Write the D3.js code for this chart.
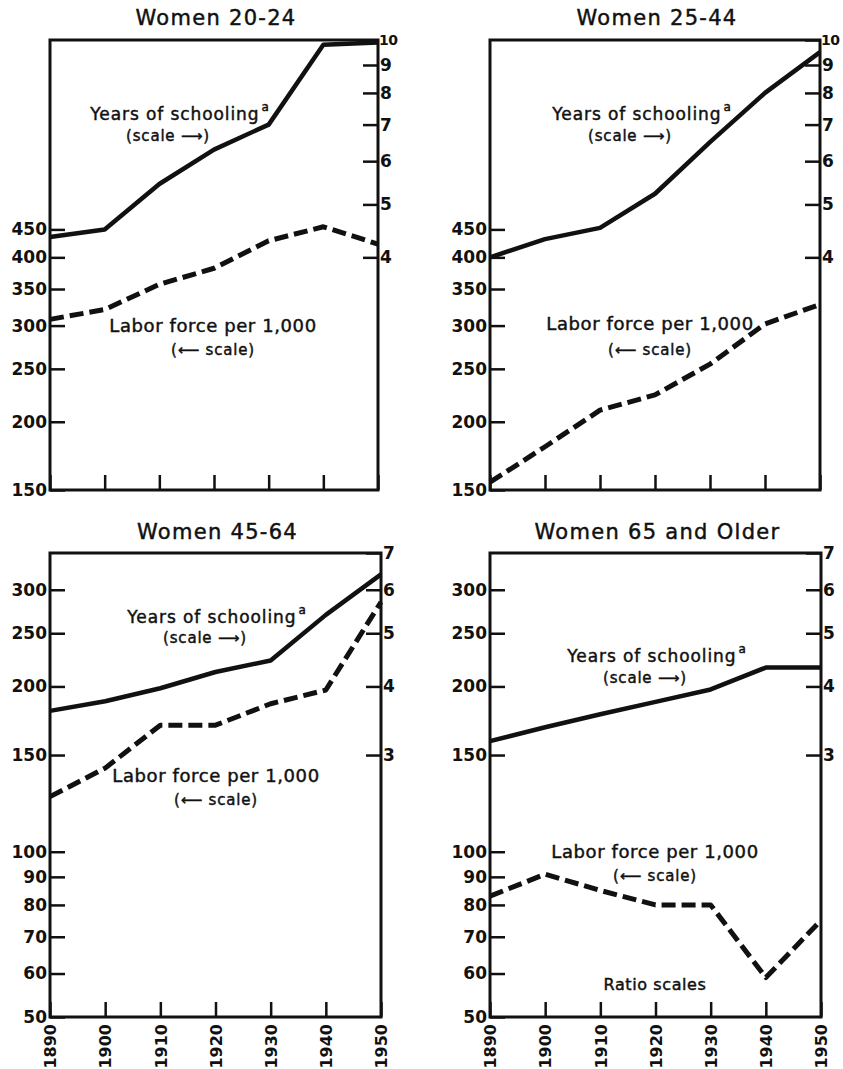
<!DOCTYPE html>
<html>
<head>
<meta charset="utf-8">
<script src="https://cdn.jsdelivr.net/npm/d3@7"></script>
<style>
  html, body { margin: 0; padding: 0; background: #fff; }
  svg { display: block; }
  text { font-family: "DejaVu Sans", sans-serif; fill: #111; }
  .lbl { stroke: #111; stroke-width: 0.45px; }
</style>
</head>
<body>
<svg id="chart" width="843" height="1069"></svg>
<script>
// ---------------- DATA ----------------
const years = [1890, 1900, 1910, 1920, 1930, 1940, 1950];
const panelTitles = ["Women 20-24", "Women 25-44", "Women 45-64", "Women 65 and Older"];

// Years of schooling (right, ratio scale)
const schooling2024 = [4.36, 4.5, 5.45, 6.3, 7.0, 9.8, 9.9];
const schooling2544 = [4.0, 4.32, 4.53, 5.23, 6.5, 8.0, 9.5];
const schooling4564 = [3.61, 3.76, 3.97, 4.25, 4.46, 5.4, 6.4];
const schooling65 = [3.18, 3.37, 3.56, 3.75, 3.95, 4.33, 4.33];

// Labor force per 1,000 (left, ratio scale)
const labor2024 = [308, 321, 357, 382, 429, 455, 423];
const labor2544 = [155, 180, 210, 224, 255, 302, 328];
const labor4564 = [126, 142, 170, 170, 186, 197, 285];
const labor65 = [83, 91, 85, 80, 80, 59, 75];

// Tick labels
const leftTicksTop = [150, 200, 250, 300, 350, 400, 450];
const rightTicksTop = [4, 5, 6, 7, 8, 9, 10];
const leftTicksBottom = [50, 60, 70, 80, 90, 100, 150, 200, 250, 300];
const rightTicksBottom = [3, 4, 5, 6, 7];

const labelSchool = "Years of schooling";
const labelSchoolSup = "a";
const labelSchoolScale = "(scale \u27F6)";
const labelLabor = "Labor force per 1,000";
const labelLaborScale = "(\u27F5 scale)";
const noteRatio = "Ratio scales";

// ---------------- LAYOUT ----------------
const panels = [
  { title: panelTitles[0], school: schooling2024, labor: labor2024, x0: 50, x1: 378, y0: 40, y1: 490,
    lDom: [150, 1000], ratio: 100, lt: leftTicksTop, rt: rightTicksTop, yearLabels: false,
    titleY: 25, sch: [180, 120, 141], lab: [213, 332, 355] },
  { title: panelTitles[1], school: schooling2544, labor: labor2544, x0: 490, x1: 820, y0: 40, y1: 490,
    lDom: [150, 1000], ratio: 100, lt: leftTicksTop, rt: rightTicksTop, yearLabels: false,
    titleY: 25, sch: [642, 120, 141], lab: [650, 330, 355] },
  { title: panelTitles[2], school: schooling4564, labor: labor4564, x0: 50, x1: 381, y0: 553, y1: 1017,
    lDom: [50, 350], ratio: 50, lt: leftTicksBottom, rt: rightTicksBottom, yearLabels: true,
    titleY: 539, sch: [217, 623, 643], lab: [216, 782, 805] },
  { title: panelTitles[3], school: schooling65, labor: labor65, x0: 490, x1: 821, y0: 553, y1: 1017,
    lDom: [50, 350], ratio: 50, lt: leftTicksBottom, rt: rightTicksBottom, yearLabels: true,
    titleY: 539, sch: [657, 662, 683], lab: [655, 858, 881], note: [655, 990] }
];

const svg = d3.select("#chart");

function styleTicks(sel, size) {
  sel.selectAll(".tick line").attr("stroke", "#111").attr("stroke-width", 2.5);
  sel.selectAll(".tick text").style("font-size", size).style("font-weight", "bold").attr("fill", "#111")
    .style("font-family", "'DejaVu Sans', sans-serif");
}

panels.forEach(p => {
  const g = svg.append("g");
  const x = d3.scaleLinear().domain([years[0], years[years.length - 1]]).range([p.x0, p.x1]);
  const yL = d3.scaleLog().domain(p.lDom).range([p.y1, p.y0]);
  const yR = d3.scaleLog().domain([p.lDom[0] / p.ratio, p.lDom[1] / p.ratio]).range([p.y1, p.y0]);

  // title
  g.append("text").attr("class", "lbl")
    .attr("x", (p.x0 + p.x1) / 2 + 2).attr("y", p.titleY)
    .attr("text-anchor", "middle")
    .style("font-size", "21px").style("letter-spacing", "1.3px")
    .text(p.title);

  // left axis
  const la = g.append("g").attr("transform", `translate(${p.x0},0)`)
    .call(d3.axisLeft(yL).tickValues(p.lt).tickFormat(d3.format("d")).tickSize(-15).tickPadding(3));
  la.select(".domain").remove();
  styleTicks(la, "17px");

  // right axis
  const ra = g.append("g").attr("transform", `translate(${p.x1},0)`)
    .call(d3.axisRight(yR).tickValues(p.rt).tickFormat(d3.format("d")).tickSize(-15).tickPadding(2));
  ra.select(".domain").remove();
  styleTicks(ra, "17px");
  ra.selectAll(".tick text").filter(d => d >= 10)
    .attr("x", 1).style("font-size", "14px").style("letter-spacing", "-0.5px");

  // bottom axis
  const ba = g.append("g").attr("transform", `translate(0,${p.y1})`)
    .call(d3.axisBottom(x).tickValues(years).tickFormat(d3.format("d")).tickSize(-15).tickPadding(0));
  ba.select(".domain").remove();
  styleTicks(ba, "16px");
  if (p.yearLabels) {
    ba.selectAll(".tick text")
      .attr("transform", "rotate(-90)")
      .attr("x", -7).attr("y", 0).attr("dy", "0.36em")
      .attr("text-anchor", "end");
  } else {
    ba.selectAll(".tick text").remove();
  }

  // frame
  g.append("rect")
    .attr("x", p.x0).attr("y", p.y0)
    .attr("width", p.x1 - p.x0).attr("height", p.y1 - p.y0)
    .attr("fill", "none").attr("stroke", "#111").attr("stroke-width", 3);

  // lines
  const lineS = d3.line().x((d, i) => x(years[i])).y(d => yR(d));
  const lineL = d3.line().x((d, i) => x(years[i])).y(d => yL(d));
  g.append("path").datum(p.school).attr("d", lineS)
    .attr("fill", "none").attr("stroke", "#111").attr("stroke-width", 4.5)
    .attr("stroke-linejoin", "round");
  g.append("path").datum(p.labor).attr("d", lineL)
    .attr("fill", "none").attr("stroke", "#111").attr("stroke-width", 5)
    .attr("stroke-dasharray", "14,6").attr("stroke-linejoin", "round");

  // series labels
  const t1 = g.append("text").attr("class", "lbl").attr("x", p.sch[0]).attr("y", p.sch[1])
    .attr("text-anchor", "middle").style("font-size", "17px").style("letter-spacing", "0.9px");
  t1.append("tspan").text(labelSchool);
  t1.append("tspan").attr("dx", 2).attr("dy", -9).style("font-size", "12px").text(labelSchoolSup);
  g.append("text").attr("class", "lbl").attr("x", p.sch[0] - 12).attr("y", p.sch[2])
    .attr("text-anchor", "middle").style("font-size", "15px").style("letter-spacing", "0.8px")
    .text(labelSchoolScale);
  g.append("text").attr("class", "lbl").attr("x", p.lab[0]).attr("y", p.lab[1])
    .attr("text-anchor", "middle").style("font-size", "18px").style("letter-spacing", "0.6px")
    .text(labelLabor);
  g.append("text").attr("class", "lbl").attr("x", p.lab[0]).attr("y", p.lab[2])
    .attr("text-anchor", "middle").style("font-size", "15px").style("letter-spacing", "0.8px")
    .text(labelLaborScale);
  if (p.note) {
    g.append("text").attr("class", "lbl").attr("x", p.note[0]).attr("y", p.note[1])
      .attr("text-anchor", "middle").style("font-size", "16px").style("letter-spacing", "0.6px")
      .text(noteRatio);
  }
});
</script>
</body>
</html>
